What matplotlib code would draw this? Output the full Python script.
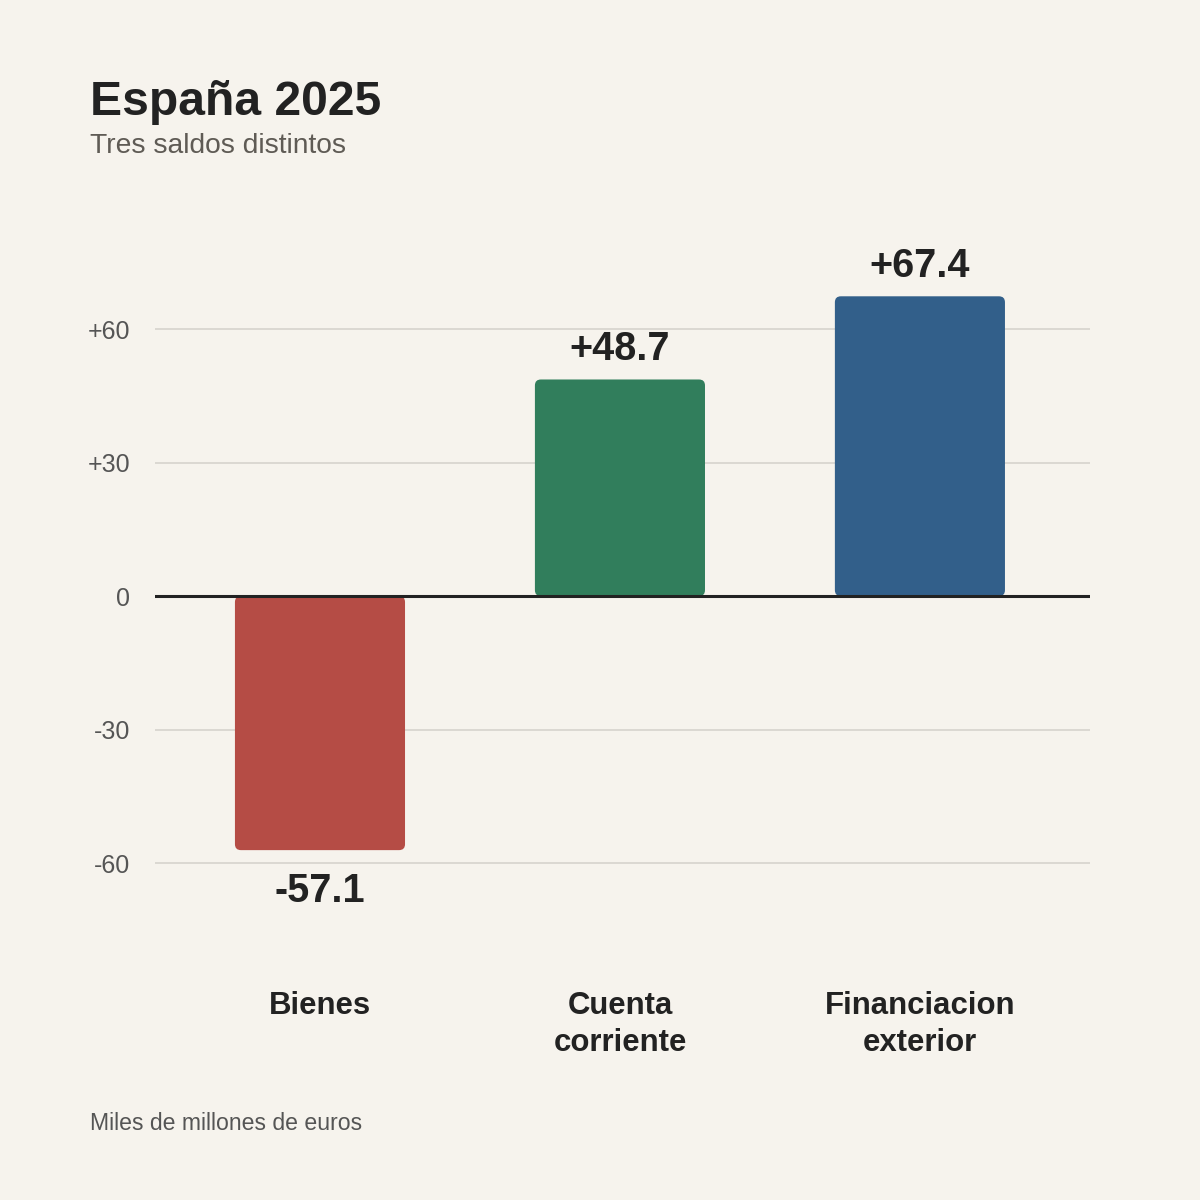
import matplotlib.pyplot as plt
from matplotlib.patches import FancyBboxPatch

categories = ['Bienes', 'Cuenta\ncorriente', 'Financiacion\nexterior']
values = [-57.1, 48.7, 67.4]
colors = ['#B54C45', '#317E5C', '#325F8A']
yticks = [-60, -30, 0, 30, 60]
ytick_labels = ['-60', '-30', '0', '+30', '+60']

bg = '#F6F3ED'
plt.rcParams['font.family'] = ['Liberation Sans', 'DejaVu Sans']

fig = plt.figure(figsize=(12, 12), dpi=100, facecolor=bg)
ax = fig.add_axes([155 / 1200, (1200 - 952) / 1200, (1090 - 155) / 1200, (952 - 218) / 1200])
ax.set_facecolor(bg)

x = list(range(len(categories)))
bars = ax.bar(x, values, width=0.567, color=colors, zorder=2)

# swap plain bars for rounded ones
for b, c in zip(bars, colors):
    x0, y0 = b.get_x(), b.get_y()
    w, h = b.get_width(), b.get_height()
    if h < 0:
        y0, h = y0 + h, -h
    b.set_visible(False)
    ax.add_patch(FancyBboxPatch((x0, y0), w, h,
                                boxstyle='round,pad=0,rounding_size=0.02',
                                mutation_aspect=67, facecolor=c,
                                edgecolor='none', zorder=2))

for xi, v in zip(x, values):
    lab = f'{v:+.1f}'
    if v >= 0:
        ax.annotate(lab, (xi, v), xytext=(0, 8), textcoords='offset points',
                    ha='center', va='bottom', fontsize=28.5, fontweight='bold',
                    color='#222222')
    else:
        ax.annotate(lab, (xi, v), xytext=(0, -16), textcoords='offset points',
                    ha='center', va='top', fontsize=28.5, fontweight='bold',
                    color='#222222')

ax.set_xlim(-0.55, 2.567)
ax.set_ylim(-80, 85)
ax.set_yticks(yticks)
ax.set_yticklabels(ytick_labels, fontsize=18, color='#555555')
ax.set_xticks(x)
ax.set_xticklabels(categories, fontsize=22.4, fontweight='bold', color='#222222',
                   linespacing=1.3)
ax.tick_params(axis='y', length=0, pad=18)
ax.tick_params(axis='x', length=0, pad=28)
for s in ax.spines.values():
    s.set_visible(False)

for t in yticks:
    if t == 0:
        ax.axhline(0, color='#222222', lw=2.2, zorder=3)
    else:
        ax.axhline(t, color='#D9D6D0', lw=1.3, zorder=1)

fig.text(90 / 1200, 1 - 115 / 1200, 'España 2025', fontsize=34.6, fontweight='bold',
         color='#222222', va='baseline')
fig.text(90 / 1200, 1 - 153 / 1200, 'Tres saldos distintos', fontsize=20.3,
         color='#5F5B55', va='baseline')
fig.text(90 / 1200, 1 - 1130 / 1200, 'Miles de millones de euros', fontsize=16.6,
         color='#555555', va='baseline')

plt.savefig('out.png', dpi=100, facecolor=bg)
